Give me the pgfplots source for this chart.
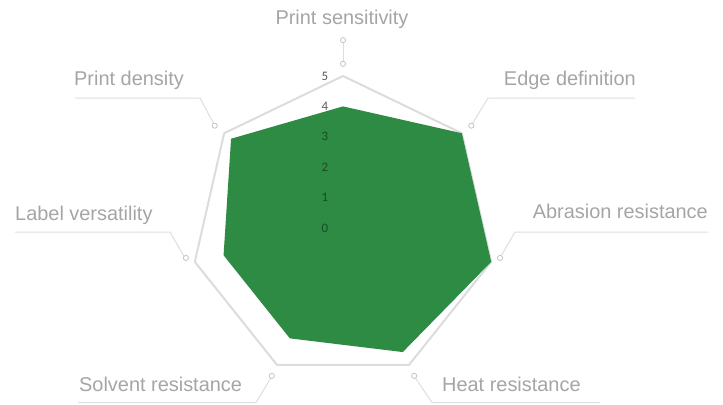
\documentclass[border=0pt]{standalone}
\usepackage{fontspec}
\setmainfont{Liberation Sans}
\newfontfamily\tickfont{Carlito}
\usepackage{pgfplots}
\pgfplotsset{compat=1.18}
\usepgfplotslibrary{polar}
\definecolor{fillgreen}{RGB}{46,139,67}
\definecolor{ringgray}{RGB}{220,220,220}
\definecolor{leadgray}{RGB}{222,222,222}
\definecolor{markgray}{RGB}{196,196,196}
\definecolor{labelgray}{RGB}{165,165,165}
\definecolor{tickgray}{RGB}{89,89,89}
\begin{document}
\begin{tikzpicture}[x=1bp,y=1bp]
\useasboundingbox (0,0) rectangle (723,404);
% leader lines
\begin{scope}[leadgray, line width=1bp]
\draw (343,340) -- (343,364);
\draw (471,278) -- (488,306) -- (635,306);
\draw (215,278) -- (200,306) -- (75,306);
\draw (500,146) -- (515,172) -- (708,172);
\draw (185,146) -- (170,172) -- (15,172);
\draw (414,28) -- (432,1.5) -- (600,1.5);
\draw (272,28) -- (256,1.5) -- (78,1.5);
\end{scope}
\begin{polaraxis}[hide axis, scale only axis, width=304bp, height=304bp,
  xmin=0, xmax=360, ymin=0, ymax=5,
  at={(343bp,176bp)}, anchor=center, clip=false]
\addplot[ringgray, line width=2bp, line join=round, mark=none] coordinates {
 (90,5) (38.571,5) (347.143,5) (295.714,5) (244.286,5) (192.857,5) (141.429,5) (90,5)};
\addplot[draw=none, fill=fillgreen, mark=none] coordinates {
 (90,4.0) (38.571,5.0) (347.143,5.0) (295.714,4.53) (244.286,4.03) (192.857,4.03) (141.429,4.71)};
\addplot[only marks, mark=*, mark size=2.6bp, mark options={fill=white, draw=markgray, line width=0.8bp}] coordinates {
 (90,5.4) (90,6.18) (38.571,5.4) (349.2,5.26) (295.714,5.4) (244.286,5.4) (190.8,5.26) (141.429,5.4)};
\node[font=\tickfont\fontsize{13}{13}\selectfont, text=tickgray, xshift=-18bp] at (axis cs:90,5) {5};
\node[font=\tickfont\fontsize{13}{13}\selectfont, text=tickgray, xshift=-18bp] at (axis cs:90,4) {4};
\node[font=\tickfont\fontsize{13}{13}\selectfont, text=black, text opacity=0.45, xshift=-18bp] at (axis cs:90,3) {3};
\node[font=\tickfont\fontsize{13}{13}\selectfont, text=black, text opacity=0.45, xshift=-18bp] at (axis cs:90,2) {2};
\node[font=\tickfont\fontsize{13}{13}\selectfont, text=black, text opacity=0.45, xshift=-18bp] at (axis cs:90,1) {1};
\node[font=\tickfont\fontsize{13}{13}\selectfont, text=black, text opacity=0.45, xshift=-18bp] at (axis cs:0,0) {0};
\end{polaraxis}
% category labels
\begin{scope}[every node/.style={text=labelgray, font=\fontsize{20}{24}\selectfont, inner sep=0pt}]
\node[anchor=base] at (342,380) {Print sensitivity};
\node[anchor=base west] at (74,319) {Print density};
\node[anchor=base east] at (636,319) {Edge definition};
\node[anchor=base west] at (15,184) {Label versatility};
\node[anchor=base east] at (708,186) {Abrasion resistance};
\node[anchor=base west] at (79,13) {Solvent resistance};
\node[anchor=base west] at (442,13) {Heat resistance};
\end{scope}
\end{tikzpicture}
\end{document}
